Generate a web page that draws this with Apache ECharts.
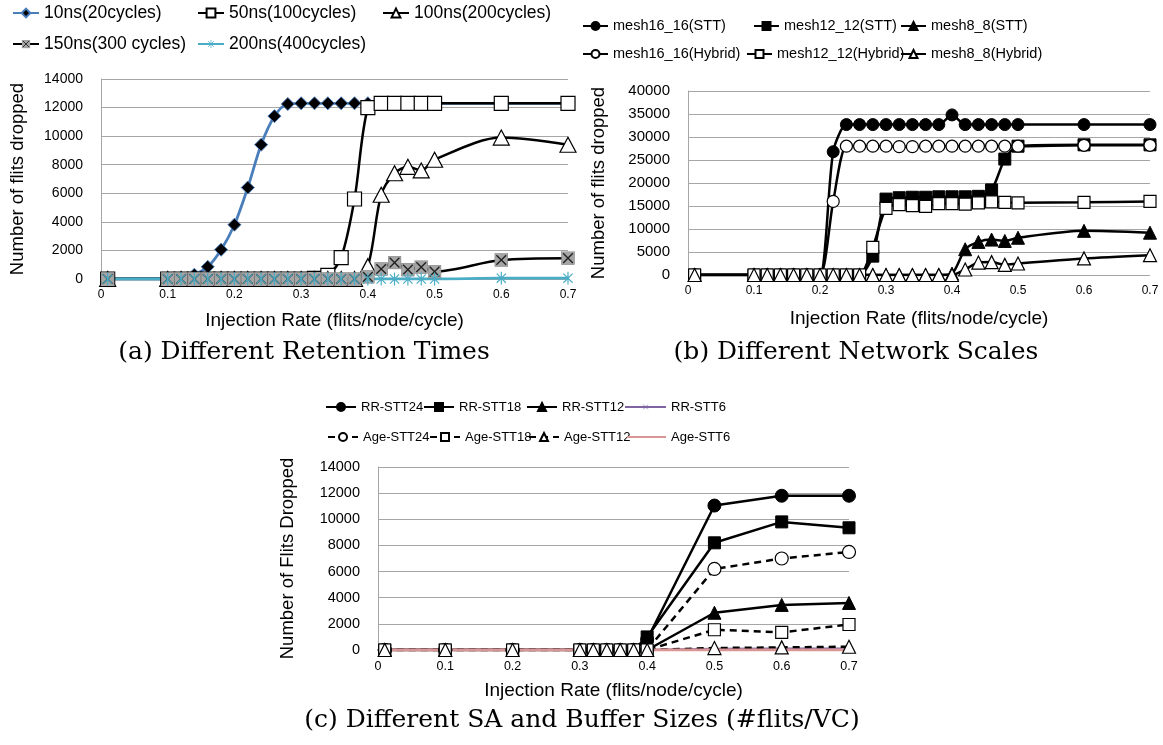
<!DOCTYPE html>
<html><head><meta charset="utf-8">
<script src="https://cdn.jsdelivr.net/npm/echarts/dist/echarts.min.js"></script>
<style>html,body{margin:0;padding:0;background:#fff}#c{width:1163px;height:745px}</style>
</head><body><div id="c"></div><script>
// ---------- DATA ----------
const xAB = [0.01,0.1,0.12,0.14,0.16,0.18,0.2,0.22,0.24,0.26,0.28,0.3,0.32,0.34,0.36,0.38,0.4,0.42,0.44,0.46,0.48,0.5,0.6,0.7];
// (a) Different Retention Times
const a10ns  = [0,0,0,300,850,2050,3800,6400,9400,11400,12250,12300,12300,12300,12300,12300,12300,12300,12300,12300,12300,12300,12300,12300];
const a50ns  = [0,0,0,0,0,0,0,0,0,0,0,0,50,250,1500,5600,12000,12300,12300,12300,12300,12300,12300,12300];
const a100ns = [0,0,0,0,0,0,0,0,0,0,0,0,0,0,0,0,900,5900,7400,7850,7600,8350,9900,9400];
const a150ns = [0,0,0,0,0,0,0,0,0,0,0,0,0,0,0,0,150,700,1150,650,830,520,1330,1460];
const a200ns = [0,0,0,0,0,0,0,0,0,0,0,0,0,0,0,0,0,0,0,0,0,0,60,60];
// (b) Different Network Scales
const b16stt = [0,0,0,0,0,0,0,26800,32700,32700,32700,32700,32700,32700,32700,32700,34800,32700,32700,32700,32700,32700,32700,32700];
const b12stt = [0,0,0,0,0,0,0,0,0,0,4100,16500,16800,16900,16900,17000,17000,17000,17100,18500,25200,28000,28300,28300];
const b8stt  = [0,0,0,0,0,0,0,0,0,0,0,0,0,0,0,0,300,5600,7200,7700,7400,8100,9600,9200];
const b16hyb = [0,0,0,0,0,0,0,16000,28000,28000,28000,28000,27900,27900,28000,28000,28000,28000,28000,28000,28000,28000,28200,28200];
const b12hyb = [0,0,0,0,0,0,0,0,0,0,6000,14500,15300,15100,14900,15500,15500,15400,15700,15900,15800,15700,15800,16000];
const b8hyb  = [0,0,0,0,0,0,0,0,0,0,0,0,0,0,0,0,0,1200,2700,2800,2200,2500,3600,4300];
// (c) Different SA and Buffer Sizes
const xC = [0.01,0.1,0.2,0.3,0.32,0.34,0.36,0.38,0.4,0.5,0.6,0.7];
const cRR24  = [0,0,0,0,0,0,0,0,800,11050,11800,11800];
const cRR18  = [0,0,0,0,0,0,0,0,1000,8200,9800,9350];
const cRR12  = [0,0,0,0,0,0,0,0,0,2850,3450,3600];
const cRR6   = [0,0,0,0,0,0,0,0,0,80,100,100];
const cAge24 = [0,0,0,0,0,0,0,0,0,6200,7000,7500];
const cAge18 = [0,0,0,0,0,0,0,0,0,1550,1350,1950];
const cAge12 = [0,0,0,0,0,0,0,0,0,150,200,250];
const cAge6  = [0,0,0,0,0,0,0,0,0,0,0,0];

// ---------- STYLE ----------
const SANS = 'Liberation Sans';
const svgURI = s => 'image://data:image/svg+xml;charset=utf-8,' + encodeURIComponent(s);
const symXSq = svgURI('<svg xmlns="http://www.w3.org/2000/svg" width="26" height="26" viewBox="0 0 26 26"><rect x="1" y="1" width="24" height="24" fill="#a5a5a5" stroke="#7f7f7f" stroke-width="1"/><path d="M4 4L22 22M22 4L4 22" stroke="#222" stroke-width="2.6"/></svg>');
const symStar = svgURI('<svg xmlns="http://www.w3.org/2000/svg" width="26" height="26" viewBox="0 0 26 26"><path d="M13 1V25M4.5 4.5L21.5 21.5M21.5 4.5L4.5 21.5" stroke="#4bacc6" stroke-width="2.2"/></svg>');
const symX = svgURI('<svg xmlns="http://www.w3.org/2000/svg" width="20" height="20" viewBox="0 0 20 20"><path d="M4 4L16 16M16 4L4 16" stroke="#7f64a6" stroke-width="1.8"/></svg>');

const pts = (x, y) => x.map((v, i) => [v, y[i]]);
function ser(name, idx, x, y, o) {
  return Object.assign({
    type: 'line', name, xAxisIndex: idx, yAxisIndex: idx, data: pts(x, y),
    showAllSymbol: true, animation: false,
    lineStyle: { color: '#000', width: 2.5 },
    itemStyle: { color: '#fff', borderColor: '#000', borderWidth: 1 }
  }, o);
}
const filled = { color: '#000', borderColor: '#000', borderWidth: 1 };
const hollow = { color: '#fff', borderColor: '#000', borderWidth: 1.2 };

const grids = [
  { left: 101, top: 79, width: 467, height: 200 },
  { left: 688, top: 91, width: 462, height: 184 },
  { left: 378, top: 467, width: 471, height: 183 }
];
function xAx(i, gap, fs) {
  return { type: 'value', gridIndex: i, min: 0, max: 0.7, interval: 0.1,
    name: 'Injection Rate (flits/node/cycle)', nameLocation: 'middle', nameGap: gap,
    nameTextStyle: { fontFamily: SANS, fontSize: 19, color: '#000' },
    axisLine: { show: false }, axisTick: { show: false }, splitLine: { show: false },
    axisLabel: { fontFamily: SANS, fontSize: fs, color: '#000', margin: 10, formatter: v => String(+v.toFixed(2)) } };
}
function yAx(i, max, step, name, gap, fs, nfs) {
  return { type: 'value', gridIndex: i, min: 0, max, interval: step,
    name, nameLocation: 'middle', nameGap: gap, nameRotate: 90,
    nameTextStyle: { fontFamily: SANS, fontSize: nfs, color: '#000' },
    axisLine: { show: true, lineStyle: { color: '#a6a6a6', width: 1 } },
    axisTick: { show: false },
    splitLine: { show: true, lineStyle: { color: '#a6a6a6', width: 1 } },
    axisLabel: { fontFamily: SANS, fontSize: fs, color: '#000', margin: 18, formatter: v => String(Math.round(v)) } };
}
function lg(name, left, y, fs, lh, iw, ih) {
  return { data: [name], left, top: y - lh / 2, padding: 0, itemGap: 0,
    itemWidth: iw, itemHeight: ih, selectedMode: false,
    textStyle: { fontFamily: SANS, fontSize: fs, color: '#000', lineHeight: lh } };
}

const series = [
  // (a)
  ser('10ns(20cycles)', 0, xAB, a10ns, { smooth: 0.3, symbol: 'diamond', symbolSize: 13,
    lineStyle: { color: '#4a7ebb', width: 2.8 }, itemStyle: { color: '#000', borderColor: '#4a7ebb', borderWidth: 1 } }),
  ser('50ns(100cycles)', 0, xAB, a50ns, { smooth: 0.3, symbol: 'rect', symbolSize: 14, itemStyle: hollow }),
  ser('100ns(200cycles)', 0, xAB, a100ns, { smooth: 0.3, symbol: 'triangle', symbolSize: [16, 15], itemStyle: hollow }),
  ser('150ns(300 cycles)', 0, xAB, a150ns, { smooth: 0.3, symbol: symXSq, symbolSize: 14, itemStyle: { color: '#a5a5a5' } }),
  ser('200ns(400cycles)', 0, xAB, a200ns, { smooth: 0.3, symbol: symStar, symbolSize: 14,
    lineStyle: { color: '#4bacc6', width: 2.8 }, itemStyle: { color: '#4bacc6' } }),
  // (b)
  ser('mesh16_16(STT)', 1, xAB, b16stt, { smooth: 0.25, symbol: 'circle', symbolSize: 12, itemStyle: filled }),
  ser('mesh12_12(STT)', 1, xAB, b12stt, { smooth: 0.25, symbol: 'rect', symbolSize: 12, itemStyle: filled }),
  ser('mesh8_8(STT)', 1, xAB, b8stt, { smooth: 0.25, symbol: 'triangle', symbolSize: 13, itemStyle: filled }),
  ser('mesh16_16(Hybrid)', 1, xAB, b16hyb, { smooth: 0.25, symbol: 'circle', symbolSize: 12, itemStyle: hollow }),
  ser('mesh12_12(Hybrid)', 1, xAB, b12hyb, { smooth: 0.25, symbol: 'rect', symbolSize: 12, itemStyle: hollow }),
  ser('mesh8_8(Hybrid)', 1, xAB, b8hyb, { smooth: 0.25, symbol: 'triangle', symbolSize: 13, itemStyle: hollow }),
  // (c)
  ser('RR-STT24', 2, xC, cRR24, { symbol: 'circle', symbolSize: 13, itemStyle: filled }),
  ser('RR-STT18', 2, xC, cRR18, { symbol: 'rect', symbolSize: 12, itemStyle: filled }),
  ser('RR-STT12', 2, xC, cRR12, { symbol: 'triangle', symbolSize: 13, itemStyle: filled }),
  ser('RR-STT6', 2, xC, cRR6, { symbol: symX, symbolSize: 9, lineStyle: { color: '#8064a2', width: 2.5 }, itemStyle: { color: '#8064a2' } }),
  ser('Age-STT24', 2, xC, cAge24, { symbol: 'circle', symbolSize: 13, itemStyle: hollow, lineStyle: { color: '#000', width: 2.5, type: [7, 5] } }),
  ser('Age-STT18', 2, xC, cAge18, { symbol: 'rect', symbolSize: 12, itemStyle: hollow, lineStyle: { color: '#000', width: 2.5, type: [7, 5] } }),
  ser('Age-STT12', 2, xC, cAge12, { symbol: 'triangle', symbolSize: 13, itemStyle: hollow, lineStyle: { color: '#000', width: 2.5, type: [7, 5] } }),
  ser('Age-STT6', 2, xC, cAge6, { symbol: 'circle', symbolSize: 1, showSymbol: false,
    lineStyle: { color: '#d99694', width: 3 }, itemStyle: { color: 'rgba(0,0,0,0)', borderWidth: 0 } })
];

const legends = [
  lg('10ns(20cycles)', 12, 13, 17.5, 20, 26, 11),
  lg('50ns(100cycles)', 197, 13, 17.5, 20, 26, 11),
  lg('100ns(200cycles)', 382, 13, 17.5, 20, 26, 11),
  lg('150ns(300 cycles)', 12, 44, 17.5, 20, 26, 11),
  lg('200ns(400cycles)', 197, 44, 17.5, 20, 26, 11),
  lg('mesh16_16(STT)', 582, 26, 14.5, 18, 25, 10),
  lg('mesh12_12(STT)', 753, 26, 14.5, 18, 25, 10),
  lg('mesh8_8(STT)', 900, 26, 14.5, 18, 25, 10),
  lg('mesh16_16(Hybrid)', 582, 54, 14.5, 18, 25, 10),
  lg('mesh12_12(Hybrid)', 746, 54, 14.5, 18, 25, 10),
  lg('mesh8_8(Hybrid)', 900, 54, 14.5, 18, 25, 10),
  lg('RR-STT24', 325, 407, 13, 16, 30, 10),
  lg('RR-STT18', 423, 407, 13, 16, 30, 10),
  lg('RR-STT12', 526, 407, 13, 16, 30, 10),
  lg('RR-STT6', 624, 407, 13, 16, 41, 10),
  lg('Age-STT24', 327, 437, 13, 16, 30, 10),
  lg('Age-STT18', 429, 437, 13, 16, 30, 10),
  lg('Age-STT12', 528, 437, 13, 16, 30, 10),
  lg('Age-STT6', 626, 437, 13, 16, 39, 10)
];

const caption = (text, x, y) => ({ type: 'text', x, y, silent: true,
  style: { text, fill: '#000', font: '25px "DejaVu Serif"', textAlign: 'center', textVerticalAlign: 'middle' } });

const chart = echarts.init(document.getElementById('c'), null, { renderer: 'canvas' });
chart.setOption({
  animation: false,
  backgroundColor: '#fff',
  grid: grids,
  xAxis: [xAx(0, 32, 12), xAx(1, 34, 12), xAx(2, 31, 12.5)],
  yAxis: [
    yAx(0, 14000, 2000, 'Number of flits dropped', 74, 14, 18.5),
    yAx(1, 40000, 5000, 'Number of flits dropped', 80, 15, 18.5),
    yAx(2, 14000, 2000, 'Number of Flits Dropped', 81, 14.5, 18.5)
  ],
  legend: legends,
  series,
  graphic: [
    caption('(a) Different Retention Times', 304, 352),
    caption('(b) Different Network Scales', 856, 352),
    caption('(c) Different SA and Buffer Sizes (#flits/VC)', 582, 720)
  ]
});
</script></body></html>
